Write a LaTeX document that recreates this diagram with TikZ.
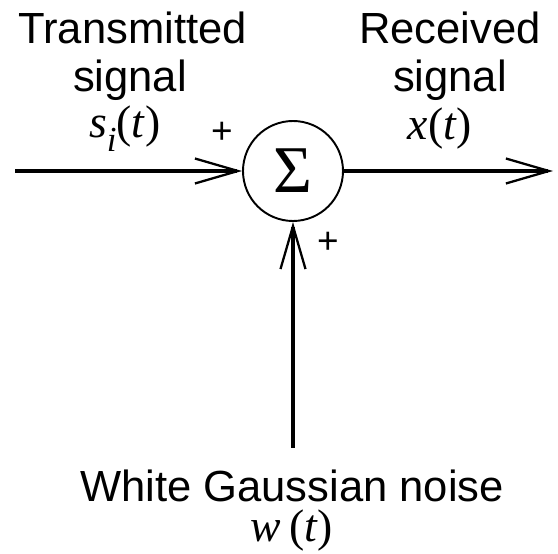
\documentclass[tikz,border=0pt]{standalone}
\usepackage{fontspec}
\setmainfont{Liberation Sans}
\newfontfamily\serfam{Liberation Serif}
\usepackage{tikz}
\usetikzlibrary{arrows.meta}
\tikzstyle{summer}=[circle, draw, line width=1.1pt, minimum size=2cm, inner sep=0pt]
\tikzstyle{sig}=[line width=2.8pt, -{Straight Barb[length=0.86cm, width=0.5cm, line width=1.3pt]}]
\tikzstyle{lbl}=[font=\fontsize{24.8}{28}\selectfont, inner sep=0pt]
\tikzstyle{mth}=[font=\serfam\fontsize{26}{30}\selectfont, inner sep=0pt]
\tikzstyle{sgn}=[font=\fontsize{21}{24}\selectfont, inner sep=0pt]
\newcommand{\iv}[1]{\textit{#1}}

\begin{document}
\begin{tikzpicture}
\useasboundingbox (0,0) rectangle (11.16,11.08);

\node[summer] (sum) at (5.86,7.66) {\serfam\fontsize{38}{40}\selectfont\raisebox{-0.2ex}{Σ}};
\coordinate (in) at (0.3,7.66);
\coordinate (out) at (11.06,7.66);
\coordinate (noise) at (5.86,2.12);

\node[lbl] (tx1) at (2.65,10.52) {Transmitted};
\node[lbl] (tx2) at (2.6,9.48) {signal};
\node[mth] (txs) at (2.5,8.5) {\iv{s}\raisebox{-0.3em}{\fontsize{20}{22}\selectfont\iv{i}}(\iv{t})};
\node[lbl] (rx1) at (9.0,10.52) {Received};
\node[lbl] (rx2) at (9.0,9.48) {signal};
\node[mth] (rxs) at (8.8,8.5) {\iv{x}(\iv{t})};
\node[sgn] (p1) at (4.44,8.42) {+};
\node[sgn] (p2) at (6.56,6.22) {+};
\node[lbl] (nz1) at (5.84,1.36) {White Gaussian noise};
\node[mth] (nz2) at (5.84,0.46) {\iv{w}\,(\iv{t})};

\draw[sig] (in) -- (sum);
\draw[sig] (sum) -- (out);
\draw[sig] (noise) -- (sum);

\end{tikzpicture}
\end{document}
